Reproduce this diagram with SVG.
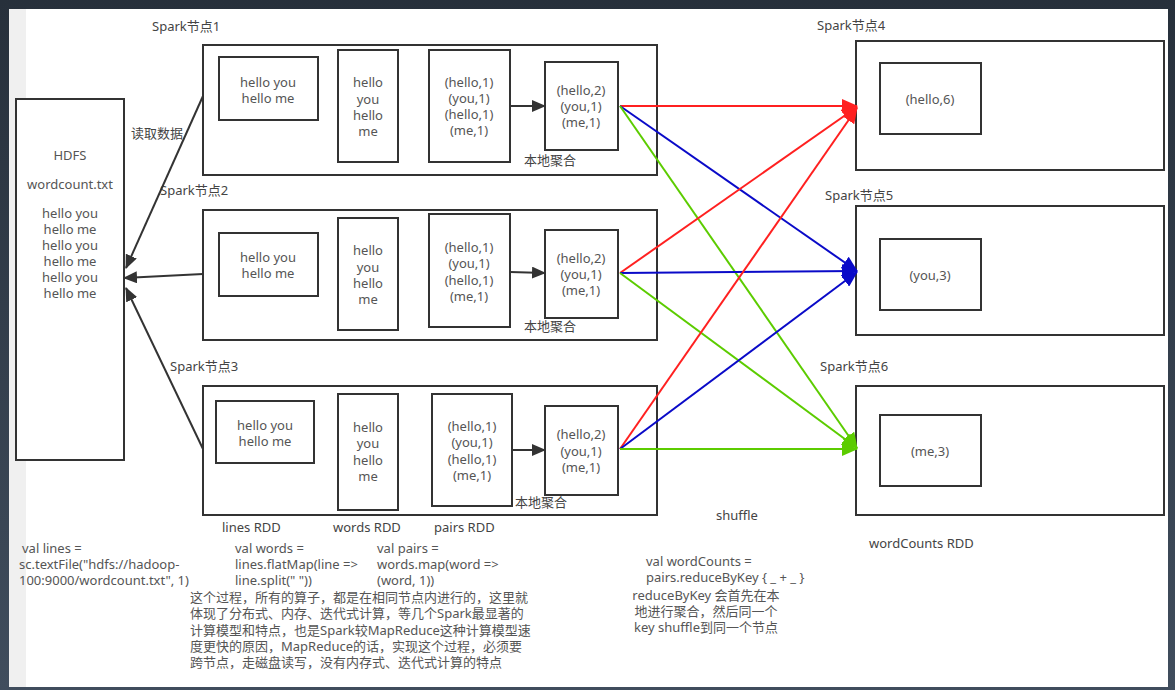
<svg xmlns="http://www.w3.org/2000/svg" width="1175" height="690" viewBox="0 0 1175 690">
<defs>
<linearGradient id="bg" x1="0" y1="0" x2="0" y2="1">
<stop offset="0" stop-color="#27303b"/>
<stop offset="1" stop-color="#404d5d"/>
</linearGradient>
<marker id="ab" markerUnits="userSpaceOnUse" markerWidth="14" markerHeight="12" refX="13" refY="6" orient="auto"><path d="M0,0 L14,6 L0,12 Z" fill="#333"/></marker>
<marker id="ar" markerUnits="userSpaceOnUse" markerWidth="16" markerHeight="14" refX="15" refY="7" orient="auto"><path d="M0,0 L16,7 L0,14 Z" fill="#ff2020"/></marker>
<marker id="au" markerUnits="userSpaceOnUse" markerWidth="16" markerHeight="14" refX="15" refY="7" orient="auto"><path d="M0,0 L16,7 L0,14 Z" fill="#0a0ac8"/></marker>
<marker id="ag" markerUnits="userSpaceOnUse" markerWidth="16" markerHeight="14" refX="15" refY="7" orient="auto"><path d="M0,0 L16,7 L0,14 Z" fill="#5ccc00"/></marker>
</defs>
<style>
.box{fill:#fff;stroke:#333;stroke-width:2}
text{font-family:"Noto Sans","Noto Sans CJK SC",sans-serif;font-size:13px;fill:#555}
.c{text-anchor:middle}
.lbl{fill:#444}
.k{stroke:#333;stroke-width:2;fill:none}
.r{stroke:#ff2020;stroke-width:2;fill:none;marker-end:url(#ar)}
.u{stroke:#0a0ac8;stroke-width:2;fill:none;marker-end:url(#au)}
.g{stroke:#5ccc00;stroke-width:2;fill:none;marker-end:url(#ag)}
</style>
<rect x="0" y="0" width="1175" height="690" fill="url(#bg)"/>
<rect x="9" y="9" width="1159" height="678" fill="#fff"/>
<rect x="9" y="9" width="17" height="678" fill="#f0f0f0"/>

<g id="hdfs">
<rect class="box" x="16" y="99" width="108" height="361"/>
<text class="c" x="70" y="160">HDFS</text>
<text class="c" x="70" y="189">wordcount.txt</text>
<text class="c" x="70" y="218">hello you</text>
<text class="c" x="70" y="234">hello me</text>
<text class="c" x="70" y="250">hello you</text>
<text class="c" x="70" y="266">hello me</text>
<text class="c" x="70" y="282">hello you</text>
<text class="c" x="70" y="298">hello me</text>
</g>

<g id="node1">
<text class="lbl" x="152" y="31">Spark节点1</text>
<rect class="box" x="203" y="45" width="454" height="130"/>
<rect class="box" x="219" y="57" width="99" height="63"/>
<text class="c" x="268" y="87">hello you</text>
<text class="c" x="268" y="103">hello me</text>
<rect class="box" x="338" y="50" width="60" height="112"/>
<text class="c" x="368" y="87">hello</text>
<text class="c" x="368" y="104">you</text>
<text class="c" x="368" y="120">hello</text>
<text class="c" x="368" y="136">me</text>
<rect class="box" x="429" y="50" width="81" height="112"/>
<text class="c" x="469" y="87">(hello,1)</text>
<text class="c" x="469" y="103">(you,1)</text>
<text class="c" x="469" y="119">(hello,1)</text>
<text class="c" x="469" y="135">(me,1)</text>
<rect class="box" x="545" y="62" width="73" height="88"/>
<text class="c" x="581" y="95">(hello,2)</text>
<text class="c" x="581" y="111">(you,1)</text>
<text class="c" x="581" y="127">(me,1)</text>
<text class="lbl" x="524" y="165">本地聚合</text>
</g>

<g id="node2">
<text class="lbl" x="160" y="195">Spark节点2</text>
<rect class="box" x="203" y="210" width="454" height="130"/>
<rect class="box" x="219" y="233" width="99" height="63"/>
<text class="c" x="268" y="262">hello you</text>
<text class="c" x="268" y="278">hello me</text>
<rect class="box" x="338" y="218" width="60" height="112"/>
<text class="c" x="368" y="255">hello</text>
<text class="c" x="368" y="272">you</text>
<text class="c" x="368" y="288">hello</text>
<text class="c" x="368" y="304">me</text>
<rect class="box" x="429" y="214" width="81" height="113"/>
<text class="c" x="469" y="252">(hello,1)</text>
<text class="c" x="469" y="268">(you,1)</text>
<text class="c" x="469" y="285">(hello,1)</text>
<text class="c" x="469" y="301">(me,1)</text>
<rect class="box" x="545" y="230" width="73" height="88"/>
<text class="c" x="581" y="263">(hello,2)</text>
<text class="c" x="581" y="279">(you,1)</text>
<text class="c" x="581" y="295">(me,1)</text>
<text class="lbl" x="524" y="331">本地聚合</text>
</g>

<g id="node3">
<text class="lbl" x="170" y="371">Spark节点3</text>
<rect class="box" x="203" y="386" width="454" height="129"/>
<rect class="box" x="216" y="401" width="98" height="62"/>
<text class="c" x="265" y="430">hello you</text>
<text class="c" x="265" y="446">hello me</text>
<rect class="box" x="338" y="394" width="60" height="116"/>
<text class="c" x="368" y="432">hello</text>
<text class="c" x="368" y="448">you</text>
<text class="c" x="368" y="465">hello</text>
<text class="c" x="368" y="481">me</text>
<rect class="box" x="432" y="394" width="80" height="112"/>
<text class="c" x="472" y="431">(hello,1)</text>
<text class="c" x="472" y="447">(you,1)</text>
<text class="c" x="472" y="464">(hello,1)</text>
<text class="c" x="472" y="480">(me,1)</text>
<rect class="box" x="545" y="406" width="73" height="89"/>
<text class="c" x="581" y="439">(hello,2)</text>
<text class="c" x="581" y="456">(you,1)</text>
<text class="c" x="581" y="472">(me,1)</text>
<text class="lbl" x="515" y="507">本地聚合</text>
</g>

<g id="node4">
<text class="lbl" x="817" y="30">Spark节点4</text>
<rect class="box" x="856" y="41" width="308" height="129"/>
<rect class="box" x="880" y="63" width="101" height="71"/>
<text class="c" x="930" y="104">(hello,6)</text>
</g>
<g id="node5">
<text class="lbl" x="825" y="200">Spark节点5</text>
<rect class="box" x="856" y="206" width="308" height="129"/>
<rect class="box" x="880" y="239" width="101" height="71"/>
<text class="c" x="930" y="280">(you,3)</text>
</g>
<g id="node6">
<text class="lbl" x="820" y="371">Spark节点6</text>
<rect class="box" x="856" y="386" width="308" height="129"/>
<rect class="box" x="880" y="415" width="101" height="71"/>
<text class="c" x="930" y="456">(me,3)</text>
</g>

<g id="connectors">
<line class="k" x1="203" y1="96" x2="126" y2="268" marker-end="url(#ab)"/>
<line class="k" x1="203" y1="274" x2="124" y2="278" marker-end="url(#ab)"/>
<line class="k" x1="203" y1="449" x2="126" y2="288" marker-end="url(#ab)"/>
<line class="k" x1="510" y1="106" x2="545" y2="106" marker-end="url(#ab)"/>
<line class="k" x1="510" y1="272" x2="545" y2="273" marker-end="url(#ab)"/>
<line class="k" x1="512" y1="450" x2="545" y2="450" marker-end="url(#ab)"/>
<line class="r" x1="620" y1="106" x2="857" y2="106"/>
<line class="u" x1="620" y1="106" x2="857" y2="271"/>
<line class="g" x1="620" y1="106" x2="857" y2="448"/>
<line class="r" x1="620" y1="273" x2="857" y2="107"/>
<line class="u" x1="620" y1="273" x2="857" y2="271"/>
<line class="g" x1="620" y1="273" x2="857" y2="448"/>
<line class="r" x1="620" y1="449" x2="857" y2="108"/>
<line class="u" x1="620" y1="449" x2="857" y2="272"/>
<line class="g" x1="620" y1="449" x2="857" y2="449"/>
</g>

<g id="labels">
<text class="lbl" x="131" y="138">读取数据</text>
<text class="lbl" x="222" y="532">lines RDD</text>
<text class="lbl" x="333" y="532">words RDD</text>
<text class="lbl" x="434" y="532">pairs RDD</text>
<text class="lbl" x="716" y="520">shuffle</text>
<text class="lbl" x="869" y="548">wordCounts RDD</text>
<text x="22" y="553">val lines =</text>
<text x="19" y="569">sc.textFile("hdfs://hadoop-</text>
<text x="19" y="585">100:9000/wordcount.txt", 1)</text>
<text x="235" y="553">val words =</text>
<text x="235" y="569">lines.flatMap(line =&gt;</text>
<text x="235" y="585">line.split(" "))</text>
<text x="377" y="553">val pairs =</text>
<text x="377" y="569">words.map(word =&gt;</text>
<text x="377" y="585">(word, 1))</text>
<text x="190" y="602">这个过程，所有的算子，都是在相同节点内进行的，这里就</text>
<text x="190" y="618">体现了分布式、内存、迭代式计算，等几个Spark最显著的</text>
<text x="190" y="635">计算模型和特点，也是Spark较MapReduce这种计算模型速</text>
<text x="190" y="651">度更快的原因，MapReduce的话，实现这个过程，必须要</text>
<text x="190" y="667">跨节点，走磁盘读写，没有内存式、迭代式计算的特点</text>
<text x="646" y="566">val wordCounts =</text>
<text x="646" y="582">pairs.reduceByKey { _ + _ }</text>
<text class="c" x="706" y="600">reduceByKey 会首先在本</text>
<text class="c" x="706" y="616">地进行聚合，然后同一个</text>
<text class="c" x="706" y="632">key shuffle到同一个节点</text>
</g>
</svg>
